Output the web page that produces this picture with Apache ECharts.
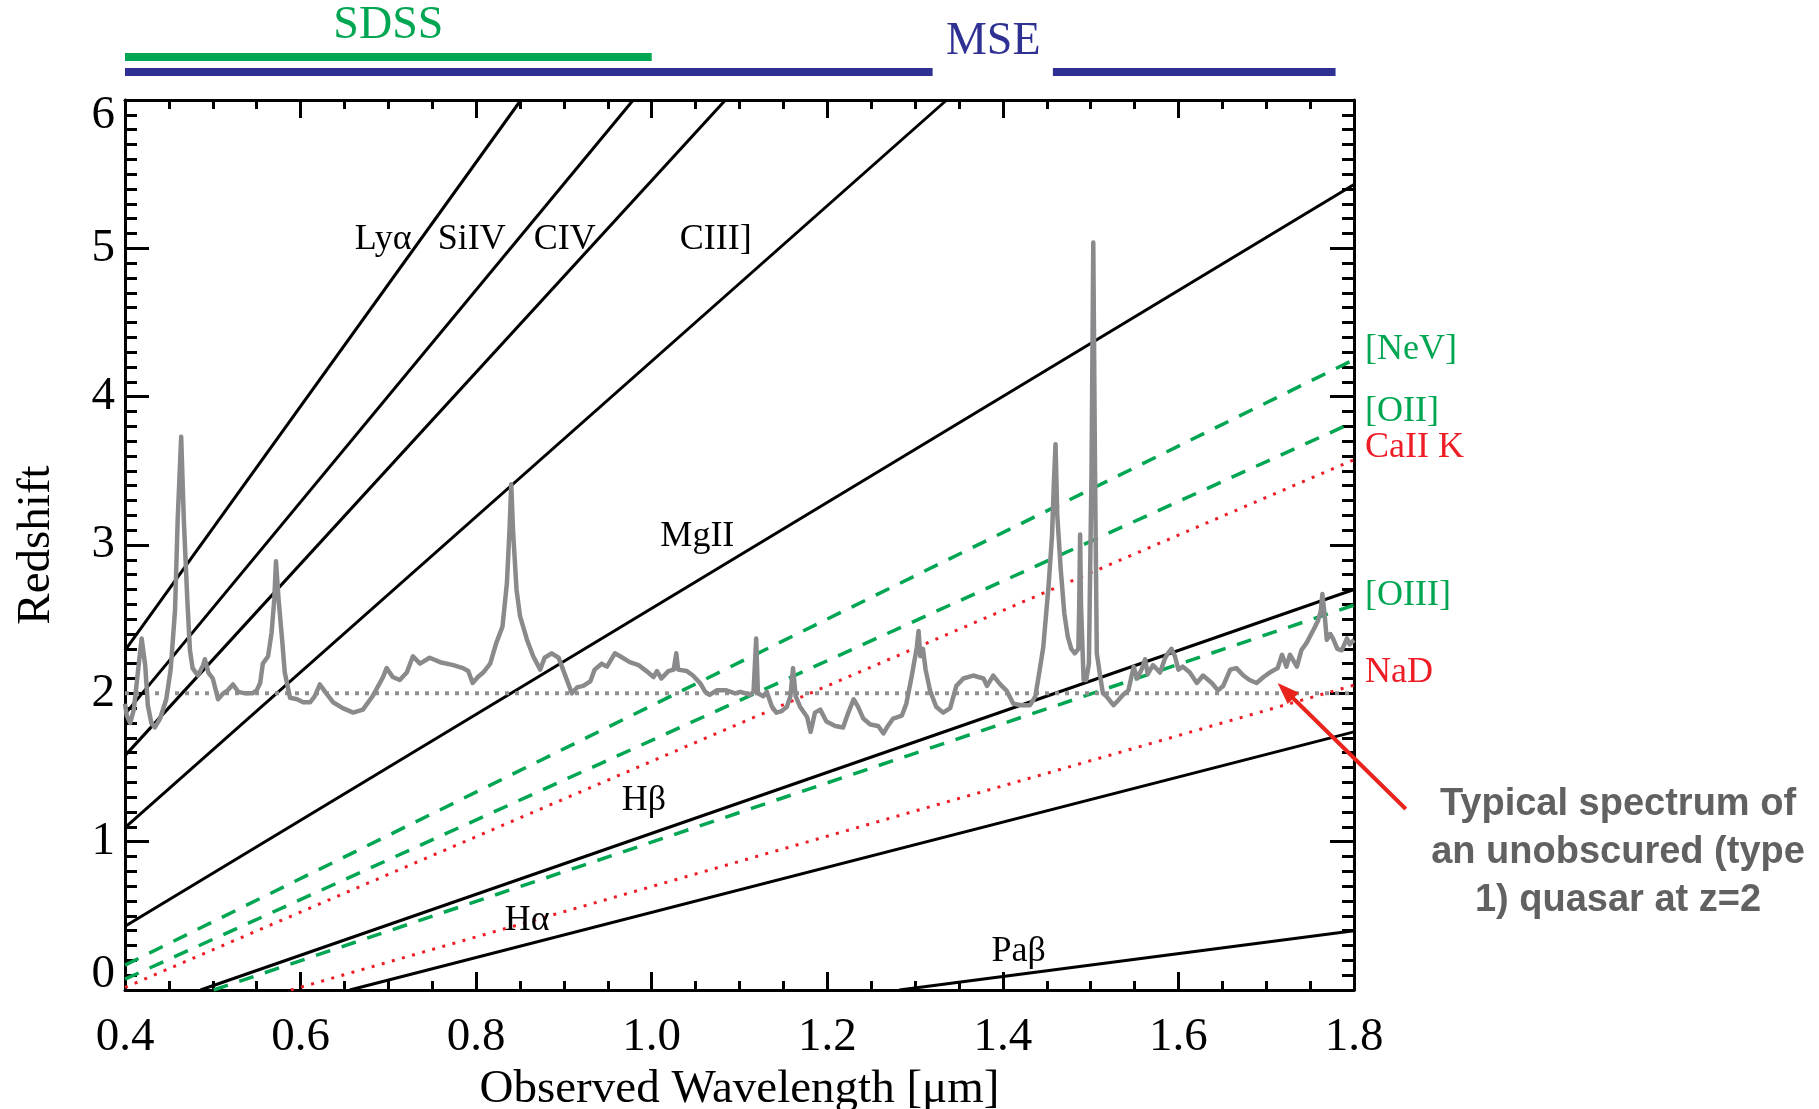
<!DOCTYPE html>
<html><head><meta charset="utf-8">
<script src="https://cdn.jsdelivr.net/npm/echarts@6/dist/echarts.min.js"></script>
<style>html,body{margin:0;padding:0;background:#fff}#c{width:1819px;height:1109px}</style>
</head><body><div id="c"></div>
<script>
// ---- Emission / absorption line tracks (observed wavelength [um] vs redshift) ----
const solidNames = ['Lyα', 'SiIV', 'CIV', 'CIII]', 'MgII', 'Hβ', 'Hα', 'Paβ'];
const solidX0 = [0.400, 0.400, 0.400, 0.400, 0.400, 0.486, 0.656, 1.282];
const solidZ0 = [2.29, 1.86, 1.58, 1.095, 0.43, 0, 0, 0];
const solidX1 = [0.851, 0.979, 1.084, 1.336, 1.800, 1.800, 1.800, 1.800];
const solidZ1 = [6, 6, 6, 6, 5.43, 2.70, 1.74, 0.40];

const dashNames = ['[NeV]', '[OII]', '[OIII]'];
const dashX0 = [0.400, 0.400, 0.501];
const dashZ0 = [0.168, 0.073, 0];
const dashX1 = [1.800, 1.800, 1.800];
const dashZ1 = [4.25, 3.83, 2.595];

const dotNames = ['CaII K', 'NaD'];
const dotX0 = [0.400, 0.589];
const dotZ0 = [0.017, 0];
const dotX1 = [1.800, 1.800];
const dotZ1 = [3.575, 2.055];

// label anchors (data coordinates)
const solidLabelX = [0.694, 0.795, 0.901, 1.073, 1.052, 0.991, 0.858, 1.418];
const solidLabelZ = [5.06, 5.06, 5.06, 5.06, 3.06, 1.28, 0.47, 0.26];
const sideLabels = ['[NeV]', '[OII]', 'CaII K', '[OIII]', 'NaD'];
const sideLabelZ = [4.32, 3.90, 3.66, 2.66, 2.14];
const sideLabelColors = ['green', 'green', 'red', 'green', 'red'];
const sideLabelX = 1.8125;

// z = 2 reference
const refWave = [0.4, 1.8];
const refZ = [2, 2];

// quasar spectrum (scaled onto the redshift axis)
const specWave = [0.400,0.402,0.406,0.410,0.415,0.419,0.423,0.426,0.430,0.434,0.440,0.447,0.452,0.457,0.460,0.464,0.467,0.471,0.474,0.477,0.483,0.489,0.491,0.495,0.500,0.506,0.512,0.517,0.523,0.529,0.537,0.545,0.550,0.554,0.557,0.563,0.567,0.570,0.572,0.575,0.579,0.582,0.588,0.596,0.603,0.611,0.616,0.622,0.628,0.637,0.648,0.660,0.671,0.682,0.694,0.698,0.705,0.713,0.721,0.728,0.736,0.747,0.759,0.774,0.785,0.791,0.796,0.802,0.808,0.816,0.823,0.830,0.835,0.838,0.840,0.842,0.846,0.850,0.858,0.865,0.873,0.878,0.886,0.894,0.899,0.909,0.915,0.922,0.930,0.935,0.943,0.949,0.958,0.964,0.975,0.985,0.994,1.002,1.006,1.011,1.019,1.025,1.028,1.030,1.040,1.047,1.055,1.061,1.066,1.074,1.085,1.095,1.101,1.112,1.116,1.119,1.121,1.127,1.131,1.137,1.142,1.148,1.154,1.158,1.161,1.164,1.169,1.177,1.181,1.186,1.192,1.199,1.209,1.218,1.224,1.230,1.235,1.241,1.249,1.258,1.264,1.269,1.275,1.285,1.290,1.296,1.302,1.304,1.306,1.309,1.312,1.317,1.324,1.332,1.340,1.347,1.355,1.366,1.378,1.382,1.389,1.397,1.404,1.412,1.421,1.431,1.437,1.442,1.446,1.452,1.456,1.458,1.460,1.462,1.466,1.470,1.474,1.478,1.482,1.486,1.487,1.488,1.489,1.492,1.495,1.498,1.501,1.503,1.505,1.507,1.511,1.514,1.518,1.526,1.531,1.537,1.543,1.549,1.553,1.558,1.562,1.565,1.571,1.579,1.585,1.588,1.592,1.596,1.600,1.605,1.613,1.621,1.628,1.638,1.645,1.651,1.659,1.666,1.674,1.681,1.689,1.697,1.704,1.713,1.718,1.723,1.727,1.735,1.740,1.746,1.754,1.759,1.762,1.764,1.767,1.769,1.773,1.776,1.781,1.786,1.792,1.795,1.800];
const specZ = [1.93,1.85,1.80,1.89,2.16,2.37,2.19,1.92,1.80,1.77,1.83,1.96,2.16,2.56,3.17,3.73,3.17,2.63,2.29,2.17,2.12,2.19,2.23,2.14,2.10,1.96,2.00,2.02,2.06,2.01,2.00,2.00,2.02,2.07,2.20,2.25,2.41,2.63,2.89,2.63,2.36,2.14,1.97,1.96,1.94,1.94,1.98,2.06,2.01,1.94,1.90,1.87,1.89,1.98,2.11,2.17,2.11,2.09,2.14,2.25,2.20,2.24,2.21,2.19,2.17,2.15,2.07,2.11,2.14,2.20,2.34,2.45,2.74,3.10,3.41,3.10,2.70,2.52,2.36,2.25,2.16,2.24,2.27,2.24,2.16,2.00,2.04,2.05,2.08,2.16,2.20,2.18,2.27,2.25,2.21,2.19,2.15,2.11,2.15,2.10,2.15,2.16,2.27,2.16,2.15,2.12,2.07,2.01,1.99,2.02,2.02,2.00,2.01,1.99,2.01,2.37,2.00,1.98,2.01,1.91,1.87,1.88,1.91,1.98,2.17,1.98,1.91,1.84,1.74,1.87,1.89,1.81,1.78,1.77,1.87,1.96,1.91,1.83,1.79,1.78,1.73,1.78,1.83,1.85,1.93,2.11,2.31,2.42,2.25,2.30,2.16,2.02,1.91,1.87,1.90,2.05,2.10,2.12,2.10,2.05,2.12,2.06,2.02,1.93,1.92,1.92,1.98,2.16,2.31,2.72,3.06,3.40,3.68,3.20,2.83,2.54,2.38,2.30,2.27,2.30,2.60,3.07,2.60,2.09,2.09,2.20,3.50,5.04,3.50,2.27,2.11,2.00,1.98,1.92,1.95,1.99,2.02,2.18,2.10,2.16,2.23,2.13,2.19,2.14,2.24,2.27,2.30,2.25,2.16,2.18,2.14,2.07,2.12,2.07,2.02,2.05,2.16,2.17,2.12,2.09,2.07,2.11,2.14,2.17,2.26,2.18,2.26,2.18,2.29,2.34,2.43,2.49,2.55,2.67,2.50,2.36,2.40,2.37,2.30,2.29,2.37,2.33,2.36];

// survey wavelength coverage bars (top panel)
const surveyNames = ['SDSS', 'MSE', 'MSE'];
const surveyStart = [0.400, 0.400, 1.457];
const surveyEnd = [1.000, 1.320, 1.779];
const surveyRow = [2, 1, 1];
const surveyColors = ['#00a651', '#2e3192', '#2e3192'];
const surveyLabelX = [0.70, 1.389];
const surveyLabelRow = [4.07, 3.0];

const xTicks = [0.4, 0.6, 0.8, 1.0, 1.2, 1.4, 1.6, 1.8];

const GREEN = '#00a651', RED = '#ee1c25', GRAY = '#8a8a8d';
const SERIF = '"Liberation Serif", "Times New Roman", serif';
const FS = 47;

const chart = echarts.init(document.getElementById('c'), null, {renderer: 'canvas'});

function seg(x0, z0, x1, z1, ls) {
  return {type: 'line', xAxisIndex: 0, yAxisIndex: 0, data: [[x0, z0], [x1, z1]],
    symbol: 'none', clip: true, silent: true, animation: false, lineStyle: ls, z: 3};
}
const series = [];
for (let i = 0; i < solidNames.length; i++)
  series.push(seg(solidX0[i], solidZ0[i], solidX1[i], solidZ1[i], {color: '#000', width: 3, cap: 'butt'}));
for (let i = 0; i < dashNames.length; i++)
  series.push(seg(dashX0[i], dashZ0[i], dashX1[i], dashZ1[i], {color: GREEN, width: 3.5, type: [15, 12], cap: 'butt'}));
for (let i = 0; i < dotNames.length; i++)
  series.push(seg(dotX0[i], dotZ0[i], dotX1[i], dotZ1[i], {color: RED, width: 3, type: [3, 7.5], cap: 'butt'}));
series.push(seg(refWave[0], refZ[0], refWave[1], refZ[1], {color: '#909090', width: 4, type: [4, 6], cap: 'butt'}));
series.push({type: 'line', xAxisIndex: 0, yAxisIndex: 0, symbol: 'none', clip: true, silent: true, animation: false, z: 4,
  data: specWave.map((w, i) => [w, specZ[i]]), lineStyle: {color: GRAY, width: 4.5, join: 'round'}});
for (let i = 0; i < surveyNames.length; i++) {
  series.push({type: 'line', xAxisIndex: 2, yAxisIndex: 2, symbol: 'none', silent: true, animation: false,
    data: [[surveyStart[i], surveyRow[i]], [surveyEnd[i], surveyRow[i]]],
    lineStyle: {color: surveyColors[i], width: 8, cap: 'butt'}});
}

const tickStyle = {color: '#000', width: 3};
function xAx(pos, showLabel) {
  return {type: 'value', gridIndex: 0, position: pos, min: 0.4, max: 1.8, interval: 0.2,
    axisLine: {show: true, onZero: false, lineStyle: {color: '#000', width: 3}},
    axisTick: {show: true, inside: true, length: 18, lineStyle: tickStyle},
    minorTick: {show: true, splitNumber: 4, length: 9, lineStyle: tickStyle},
    splitLine: {show: false}, minorSplitLine: {show: false},
    axisLabel: {show: showLabel, fontFamily: SERIF, fontSize: FS, color: '#000', margin: 24,
      formatter: v => { const t = xTicks.find(q => Math.abs(q - v) < 1e-6); return (t !== undefined ? t : v).toFixed(1); }},
    name: showLabel ? 'Observed Wavelength [μm]' : '', nameLocation: 'middle', nameGap: 73,
    nameTextStyle: {fontFamily: SERIF, fontSize: FS, color: '#000'}};
}
const txt = {fontFamily: SERIF, fontSize: FS, color: '#000'};
function yAx(pos, showLabel) {
  return {type: 'value', gridIndex: 0, position: pos, min: 0, max: 6, interval: 1,
    axisLine: {show: true, onZero: false, lineStyle: {color: '#000', width: 3}},
    axisTick: {show: true, inside: true, length: 24, lineStyle: tickStyle},
    minorTick: {show: true, splitNumber: 10, length: 12, lineStyle: tickStyle},
    splitLine: {show: false}, minorSplitLine: {show: false},
    axisLabel: {show: showLabel, margin: 10,
      formatter: v => v === 0 ? '{lo|0}' : (v === 6 ? '{hi|6}' : '{n|' + v + '}'),
      rich: {n: txt, lo: Object.assign({padding: [0, 0, 30, 0]}, txt), hi: Object.assign({padding: [32, 0, 0, 0]}, txt)}},
    name: showLabel ? 'Redshift' : '', nameLocation: 'middle', nameGap: 65,
    nameTextStyle: {fontFamily: SERIF, fontSize: FS, color: '#000'}};
}

chart.setOption({
  animation: false,
  backgroundColor: '#fff',
  grid: [
    {left: 125, right: 465, top: 100, bottom: 119, containLabel: false, outerBoundsMode: 'none'},
    {left: 125, right: 465, top: 42, height: 45, containLabel: false, outerBoundsMode: 'none'}
  ],
  xAxis: [xAx('bottom', true), xAx('top', false),
    {type: 'value', gridIndex: 1, min: 0.4, max: 1.8, show: false}],
  yAxis: [yAx('left', true), yAx('right', false),
    {type: 'value', gridIndex: 1, min: 0, max: 3, show: false}],
  series: series
});

// ---- text labels and annotation placed through the chart's coordinate system ----
const g = [];
const px = (x, z) => chart.convertToPixel({gridIndex: 0}, [x, z]);
for (let i = 0; i < solidNames.length; i++) {
  const p = px(solidLabelX[i], solidLabelZ[i]);
  g.push({type: 'text', x: p[0], y: p[1], z: 100, style: {text: solidNames[i], fill: '#000',
    font: '36px ' + SERIF, textAlign: 'center', textVerticalAlign: 'middle'}});
}
for (let i = 0; i < sideLabels.length; i++) {
  const p = px(sideLabelX, sideLabelZ[i]);
  g.push({type: 'text', x: p[0], y: p[1], z: 100, style: {text: sideLabels[i],
    fill: sideLabelColors[i] === 'green' ? GREEN : RED,
    font: '36px ' + SERIF, textAlign: 'left', textVerticalAlign: 'middle'}});
}
for (let i = 0; i < surveyLabelX.length; i++) {
  const p = chart.convertToPixel({gridIndex: 1}, [surveyLabelX[i], surveyLabelRow[i]]);
  g.push({type: 'text', x: p[0], y: p[1], z: 100, style: {text: surveyNames[i], fill: surveyColors[i],
    font: '46px ' + SERIF, textAlign: 'center', textVerticalAlign: 'middle'}});
}
// arrow pointing at the spectrum
const tip = px(1.713, 2.07), tail = px(1.859, 1.22);
const dx = tip[0] - tail[0], dy = tip[1] - tail[1], L = Math.hypot(dx, dy);
const ux = dx / L, uy = dy / L, hl = 22, hw = 8;
const base = [tip[0] - ux * hl, tip[1] - uy * hl];
g.push({type: 'line', z: 100, shape: {x1: tail[0], y1: tail[1], x2: base[0] + ux * 2, y2: base[1] + uy * 2},
  style: {stroke: '#e8251c', lineWidth: 4}});
g.push({type: 'polygon', z: 100, shape: {points: [tip, [base[0] - uy * hw, base[1] + ux * hw], [base[0] + uy * hw, base[1] - ux * hw]]},
  style: {fill: '#e8251c'}});
g.push({type: 'text', x: 1618, y: 853, z: 100, style: {text: 'Typical spectrum of\nan unobscured (type\n1) quasar at z=2',
  fill: '#616161', font: 'bold 38px "Liberation Sans", Arial, sans-serif', lineHeight: 48,
  textAlign: 'center', textVerticalAlign: 'middle'}});
chart.setOption({graphic: g});
</script></body></html>
